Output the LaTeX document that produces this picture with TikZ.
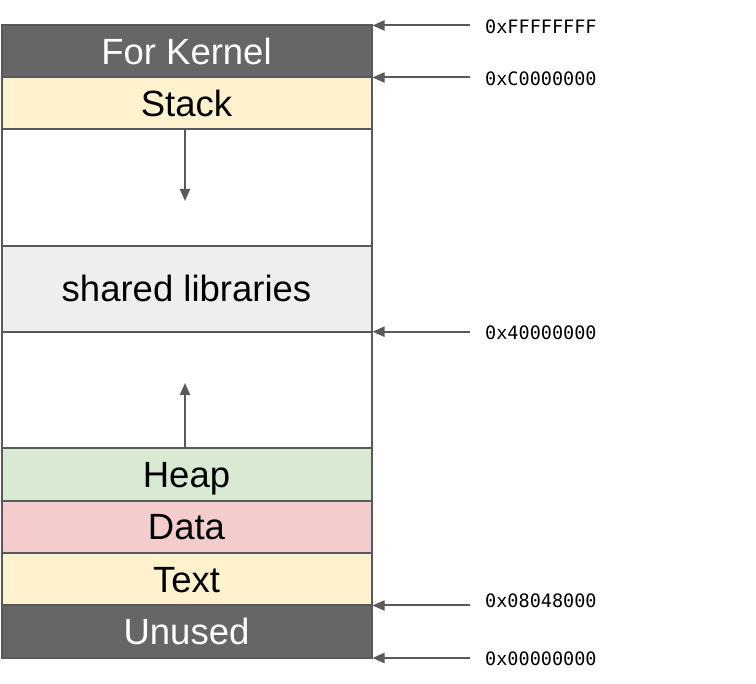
\documentclass[tikz,border=0pt]{standalone}
\usepackage{fontspec}
\setmainfont{Liberation Sans}
\newfontfamily\addrfont{DejaVu Sans Mono}
\usetikzlibrary{arrows.meta}
\definecolor{bordergray}{HTML}{595959}
\definecolor{darkgray2}{HTML}{666666}
\definecolor{lyellow}{HTML}{FFF2CC}
\definecolor{lgreen}{HTML}{D9EAD3}
\definecolor{lred}{HTML}{F4CCCC}
\definecolor{lgray}{HTML}{EEEEEE}
\begin{document}
\begin{tikzpicture}[x=1pt,y=-1pt,
  seg/.style={draw=bordergray, line width=2pt, anchor=north west, inner sep=0pt, outer sep=0pt,
    minimum width=370pt, text height=26pt, text depth=0pt,
    font=\fontsize{36.5}{40}\selectfont},
  addr/.style={anchor=west, inner sep=0pt, text height=13.3pt, text depth=0pt,
    font=\addrfont\fontsize{18.5}{20}\selectfont},
  ptr/.style={draw=bordergray, line width=2pt, -{Triangle[length=12pt,width=10pt]}},
]
\useasboundingbox (0,0) rectangle (756,684);
% segments
\node[seg, fill=darkgray2, text=white, minimum height=52pt] (kernel) at (1.5,25.5) {For Kernel};
\node[seg, fill=lyellow, minimum height=52pt] (stack) at (1.5,77.5) {Stack};
\node[seg, fill=white, minimum height=116.2pt] (gap1) at (1.5,129.5) {};
\node[seg, fill=lgray, minimum height=86pt] (shared) at (1.5,245.7) {shared libraries};
\node[seg, fill=white, minimum height=116.3pt] (gap2) at (1.5,331.7) {};
\node[seg, fill=lgreen, minimum height=52.7pt] (heap) at (1.5,448) {Heap};
\node[seg, fill=lred, minimum height=52.6pt] (data) at (1.5,500.7) {Data};
\node[seg, fill=lyellow, minimum height=52.2pt] (text) at (1.5,553.3) {Text};
\node[seg, fill=darkgray2, text=white, minimum height=52.5pt] (unused) at (1.5,605.5) {Unused};
% growth arrows
\coordinate (stackend) at (185,201);
\coordinate (heapend) at (185,383);
\draw[ptr] (stack.south -| stackend) -- (stackend);
\draw[ptr] (heap.north -| heapend) -- (heapend);
% address labels
\node[addr] (a1) at (485,26.5) {0xFFFFFFFF};
\node[addr] (a2) at (485,78.5) {0xC0000000};
\node[addr] (a3) at (485,332.5) {0x40000000};
\node[addr] (a4) at (485,600.5) {0x08048000};
\node[addr] (a5) at (485,658.5) {0x00000000};
\coordinate (t1) at (kernel.north east);
\coordinate (t2) at (kernel.south east);
\coordinate (t3) at (shared.south east);
\coordinate (t4) at (unused.north east);
\coordinate (t5) at (unused.south east);
\draw[ptr] (470,25.5) -- ([xshift=1pt]t1);
\draw[ptr] (470,77.5) -- ([xshift=1pt]t2);
\draw[ptr] (470,331.7) -- ([xshift=1pt]t3);
\draw[ptr] (470,605.5) -- ([xshift=1pt]t4);
\draw[ptr] (470,658) -- ([xshift=1pt]t5);
\end{tikzpicture}
\end{document}
